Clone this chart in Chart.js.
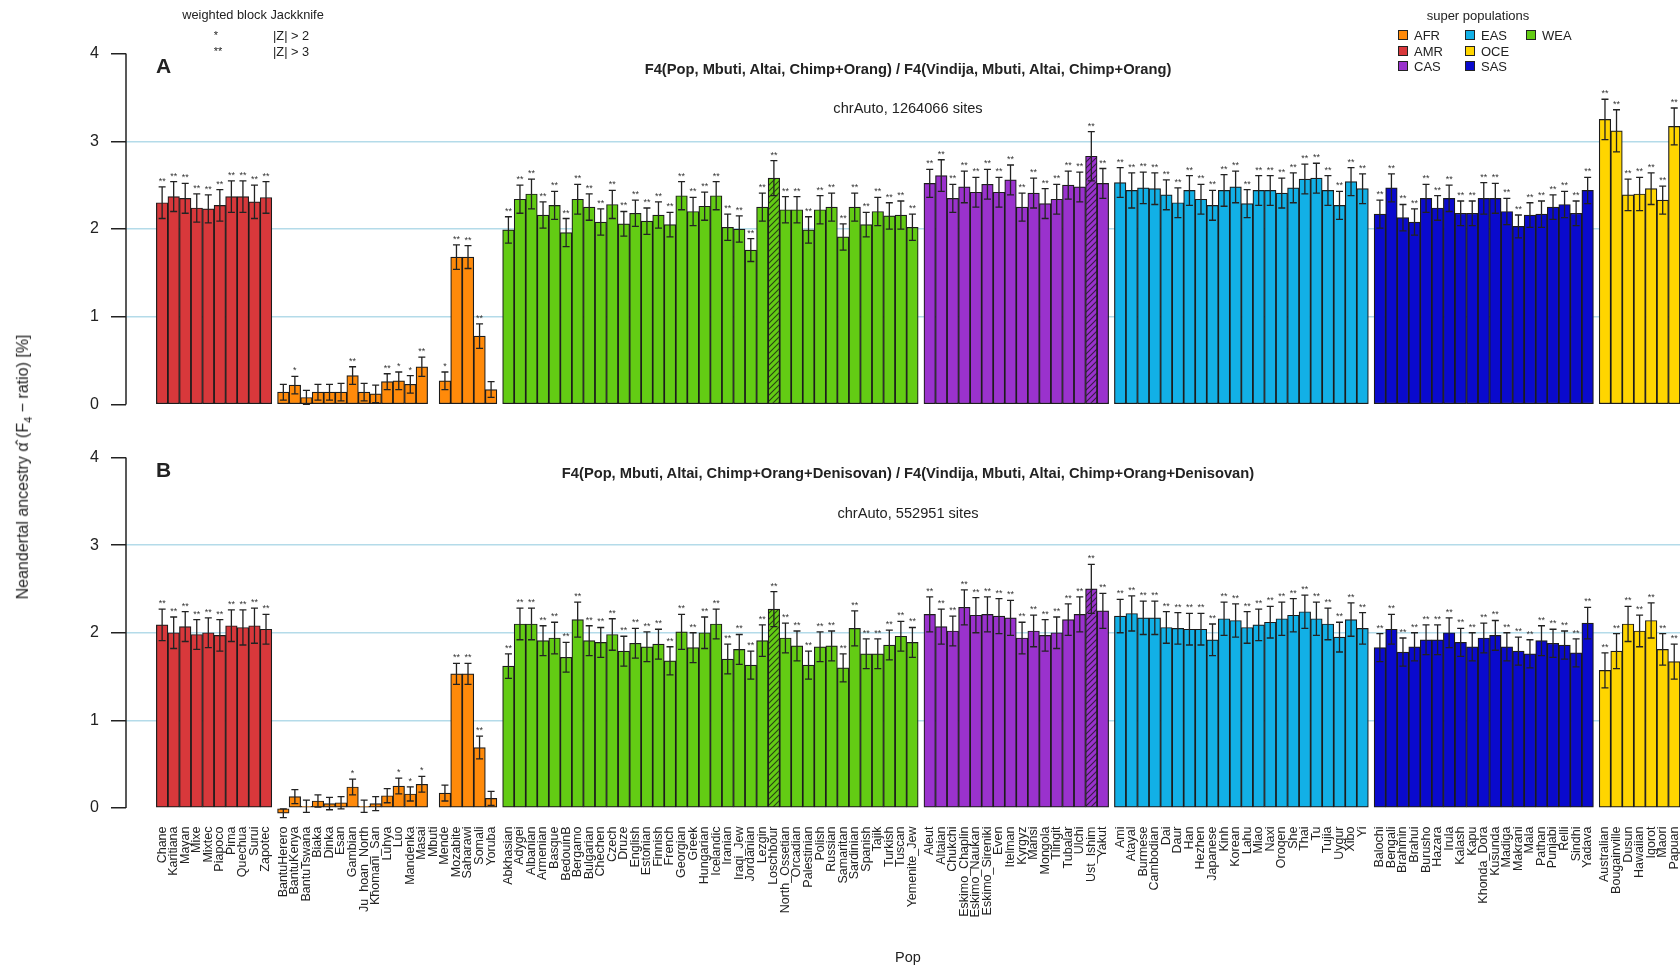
<!DOCTYPE html>
<html>
<head>
<meta charset="utf-8">
<title>Neandertal ancestry by population</title>
<script src="https://cdn.jsdelivr.net/npm/chart.js@4.4.1/dist/chart.umd.min.js"></script>
<style>
  body { margin: 0; width: 1680px; height: 969px; overflow: hidden; background: #fff;
         font-family: "Liberation Sans", Arial, sans-serif; color: #222; position: relative; }
  canvas { position: absolute; left: 0; }
  #chartA { top: 0; }
  #chartB { top: 440px; }
  .txt { position: absolute; white-space: nowrap; z-index: 2; }
  .c { transform: translate(-50%, -50%); }
  .l { transform: translate(0, -50%); }
  .title { font-weight: bold; font-size: 14.7px; }
  .sub { font-size: 14.6px; }
  .panel { font-weight: bold; font-size: 21px; }
  .sq { position: absolute; width: 8px; height: 8px; border: 1px solid #222; transform: translate(0, -50%); }
  #ytitle { left: 24px; top: 467px; font-size: 16px; transform: translate(-50%, -50%) rotate(-90deg); }
</style>
</head>
<body>
<canvas id="chartA" width="1680" height="415"></canvas>
<canvas id="chartB" width="1680" height="529"></canvas>

<div class="txt c" style="left:253px;top:14px;font-size:12.8px">weighted block Jackknife</div>
<div class="txt c" style="left:216px;top:35px;font-size:11px">*</div>
<div class="txt l" style="left:273px;top:35px;font-size:12.8px">|Z| &gt; 2</div>
<div class="txt c" style="left:218px;top:51px;font-size:11px">**</div>
<div class="txt l" style="left:273px;top:51px;font-size:12.8px">|Z| &gt; 3</div>
<div class="txt c" style="left:1478px;top:15px;font-size:13px">super populations</div>
<div id="legend"></div>

<div class="txt l panel" style="left:156px;top:66px">A</div>
<div class="txt c title" style="left:908px;top:69px">F4(Pop, Mbuti, Altai, Chimp+Orang) / F4(Vindija, Mbuti, Altai, Chimp+Orang)</div>
<div class="txt c sub" style="left:908px;top:108px">chrAuto, 1264066 sites</div>
<div class="txt l panel" style="left:156px;top:470px">B</div>
<div class="txt c title" style="left:908px;top:473px">F4(Pop, Mbuti, Altai, Chimp+Orang+Denisovan) / F4(Vindija, Mbuti, Altai, Chimp+Orang+Denisovan)</div>
<div class="txt c sub" style="left:908px;top:513px">chrAuto, 552951 sites</div>
<div class="txt" id="ytitle">Neandertal ancestry &alpha;&#770; (F<sub style="font-size:11px">4</sub> &minus; ratio) [%]</div>
<div class="txt c" style="left:908px;top:957px;font-size:14.5px">Pop</div>

<script>
// super populations in plotting order
const superPops = ['AMR', 'AFR', 'WEA', 'CAS', 'EAS', 'SAS', 'OCE'];
const superColors = ['#d8383b', '#ff8a0a', '#63cc14', '#9a32cd', '#12b0e6', '#0a0acd', '#ffd500'];

const amrPops = ['Chane', 'Karitiana', 'Mayan', 'Mixe', 'Mixtec', 'Piapoco', 'Pima', 'Quechua', 'Surui', 'Zapotec'];
const afrPops = ['BantuHerero', 'BantuKenya', 'BantuTswana', 'Biaka', 'Dinka', 'Esan', 'Gambian', 'Ju_hoan_North',
  'Khomani_San', 'Luhya', 'Luo', 'Mandenka', 'Masai', 'Mbuti', 'Mende', 'Mozabite', 'Saharawi', 'Somali', 'Yoruba'];
const weaPops = ['Abkhasian', 'Adygei', 'Albanian', 'Armenian', 'Basque', 'BedouinB', 'Bergamo', 'Bulgarian', 'Chechen',
  'Czech', 'Druze', 'English', 'Estonian', 'Finnish', 'French', 'Georgian', 'Greek', 'Hungarian', 'Icelandic', 'Iranian',
  'Iraqi_Jew', 'Jordanian', 'Lezgin', 'Loschbour', 'North_Ossetian', 'Orcadian', 'Palestinian', 'Polish', 'Russian',
  'Samaritan', 'Sardinian', 'Spanish', 'Tajik', 'Turkish', 'Tuscan', 'Yemenite_Jew'];
const casPops = ['Aleut', 'Altaian', 'Chukchi', 'Eskimo_Chaplin', 'Eskimo_Naukan', 'Eskimo_Sireniki', 'Even', 'Itelman',
  'Kyrgyz', 'Mansi', 'Mongola', 'Tlingit', 'Tubalar', 'Ulchi', 'Ust_Ishim', 'Yakut'];
const easPops = ['Ami', 'Atayal', 'Burmese', 'Cambodian', 'Dai', 'Daur', 'Han', 'Hezhen', 'Japanese', 'Kinh', 'Korean',
  'Lahu', 'Miao', 'Naxi', 'Oroqen', 'She', 'Thai', 'Tu', 'Tujia', 'Uygur', 'Xibo', 'Yi'];
const sasPops = ['Balochi', 'Bengali', 'Brahmin', 'Brahui', 'Burusho', 'Hazara', 'Irula', 'Kalash', 'Kapu', 'Khonda_Dora',
  'Kusunda', 'Madiga', 'Makrani', 'Mala', 'Pathan', 'Punjabi', 'Relli', 'Sindhi', 'Yadava'];
const ocePops = ['Australian', 'Bougainville', 'Dusun', 'Hawaiian', 'Igorot', 'Maori', 'Papuan'];

// ancient genomes drawn hatched
const ancientPops = ['Loschbour', 'Ust_Ishim'];

// panel A: alpha estimates (%) and jackknife errors
const amrA = [2.30, 2.37, 2.35, 2.24, 2.23, 2.27, 2.37, 2.37, 2.31, 2.36];
const afrA = [0.14, 0.22, 0.08, 0.14, 0.14, 0.14, 0.33, 0.14, 0.12, 0.26, 0.27, 0.23, 0.43, null, 0.27, 1.68, 1.68, 0.78, 0.17];
const weaA = [1.99, 2.34, 2.40, 2.16, 2.27, 1.96, 2.34, 2.25, 2.08, 2.28, 2.06, 2.18, 2.09, 2.16, 2.05, 2.38, 2.20, 2.26,
  2.38, 2.02, 2.00, 1.76, 2.25, 2.58, 2.22, 2.22, 1.99, 2.22, 2.25, 1.91, 2.25, 2.05, 2.20, 2.15, 2.16, 2.02];
const casA = [2.52, 2.61, 2.35, 2.48, 2.42, 2.51, 2.42, 2.56, 2.25, 2.41, 2.29, 2.34, 2.50, 2.48, 2.83, 2.52];
const easA = [2.53, 2.44, 2.47, 2.46, 2.39, 2.30, 2.44, 2.34, 2.27, 2.44, 2.48, 2.29, 2.44, 2.44, 2.41, 2.47, 2.57, 2.58,
  2.44, 2.27, 2.54, 2.46];
const sasA = [2.17, 2.47, 2.13, 2.08, 2.35, 2.24, 2.35, 2.18, 2.18, 2.35, 2.35, 2.20, 2.03, 2.16, 2.17, 2.25, 2.28, 2.18, 2.44];
const oceA = [3.25, 3.12, 2.39, 2.40, 2.46, 2.33, 3.17];

const amrErrA = [0.18, 0.17, 0.17, 0.16, 0.16, 0.18, 0.18, 0.18, 0.19, 0.18];
const afrErrA = [0.09, 0.10, 0.08, 0.09, 0.09, 0.10, 0.10, 0.10, 0.10, 0.09, 0.10, 0.10, 0.11, null, 0.10, 0.14, 0.13, 0.14, 0.09];
const weaErrA = [0.15, 0.16, 0.17, 0.15, 0.16, 0.16, 0.17, 0.15, 0.15, 0.16, 0.14, 0.15, 0.15, 0.15, 0.14, 0.16, 0.16, 0.16,
  0.16, 0.15, 0.15, 0.13, 0.16, 0.20, 0.15, 0.15, 0.15, 0.16, 0.16, 0.15, 0.16, 0.14, 0.16, 0.15, 0.16, 0.15];
const casErrA = [0.16, 0.18, 0.16, 0.18, 0.17, 0.17, 0.17, 0.17, 0.16, 0.17, 0.17, 0.17, 0.16, 0.17, 0.28, 0.17];
const easErrA = [0.17, 0.20, 0.18, 0.18, 0.17, 0.17, 0.17, 0.17, 0.17, 0.18, 0.18, 0.16, 0.17, 0.17, 0.17, 0.17, 0.17, 0.17,
  0.17, 0.16, 0.16, 0.17];
const sasErrA = [0.16, 0.16, 0.15, 0.15, 0.16, 0.14, 0.15, 0.14, 0.14, 0.18, 0.17, 0.15, 0.13, 0.14, 0.15, 0.14, 0.15, 0.14, 0.15];
const oceErrA = [0.23, 0.24, 0.18, 0.19, 0.18, 0.16, 0.21];

// panel B
const amrB = [2.09, 2.00, 2.07, 1.98, 2.00, 1.97, 2.08, 2.06, 2.08, 2.04];
const afrB = [-0.06, 0.13, 0.02, 0.08, 0.05, 0.06, 0.24, 0.02, 0.05, 0.14, 0.25, 0.16, 0.27, null, 0.17, 1.53, 1.53, 0.69, 0.11];
const weaB = [1.62, 2.10, 2.10, 1.91, 1.94, 1.72, 2.15, 1.91, 1.89, 1.98, 1.79, 1.88, 1.84, 1.87, 1.68, 2.01, 1.83, 2.00,
  2.10, 1.70, 1.81, 1.63, 1.91, 2.27, 1.94, 1.85, 1.63, 1.84, 1.85, 1.60, 2.05, 1.76, 1.76, 1.86, 1.96, 1.89];
const casB = [2.21, 2.07, 2.02, 2.29, 2.20, 2.21, 2.19, 2.17, 1.94, 2.02, 1.97, 2.00, 2.15, 2.21, 2.50, 2.25];
const easB = [2.19, 2.22, 2.17, 2.17, 2.06, 2.05, 2.04, 2.04, 1.92, 2.16, 2.14, 2.06, 2.09, 2.12, 2.16, 2.20, 2.24, 2.16,
  2.10, 1.95, 2.15, 2.05];
const sasB = [1.83, 2.04, 1.78, 1.84, 1.92, 1.92, 2.00, 1.89, 1.84, 1.94, 1.97, 1.84, 1.79, 1.76, 1.91, 1.88, 1.86, 1.77, 2.11];
const oceB = [1.57, 1.79, 2.10, 2.02, 2.14, 1.81, 1.67];

const amrErrB = [0.18, 0.18, 0.17, 0.17, 0.17, 0.18, 0.18, 0.20, 0.20, 0.17];
const afrErrB = [0.05, 0.08, 0.07, 0.07, 0.07, 0.07, 0.09, 0.07, 0.08, 0.08, 0.09, 0.08, 0.09, null, 0.09, 0.12, 0.12, 0.13, 0.08];
const weaErrB = [0.14, 0.18, 0.18, 0.17, 0.18, 0.17, 0.20, 0.17, 0.17, 0.18, 0.17, 0.17, 0.17, 0.17, 0.16, 0.20, 0.17, 0.18,
  0.17, 0.17, 0.17, 0.16, 0.18, 0.20, 0.17, 0.17, 0.16, 0.17, 0.17, 0.16, 0.20, 0.17, 0.17, 0.17, 0.17, 0.17];
const casErrB = [0.20, 0.20, 0.17, 0.20, 0.20, 0.20, 0.20, 0.20, 0.18, 0.18, 0.18, 0.18, 0.18, 0.20, 0.28, 0.20];
const easErrB = [0.19, 0.20, 0.19, 0.19, 0.18, 0.18, 0.18, 0.18, 0.18, 0.19, 0.19, 0.18, 0.18, 0.18, 0.19, 0.19, 0.19, 0.19,
  0.18, 0.17, 0.19, 0.18];
const sasErrB = [0.16, 0.17, 0.16, 0.16, 0.17, 0.17, 0.17, 0.16, 0.16, 0.17, 0.17, 0.16, 0.16, 0.16, 0.17, 0.16, 0.16, 0.16, 0.18];
const oceErrB = [0.20, 0.20, 0.20, 0.18, 0.20, 0.18, 0.20];

// significance stars where not all '**'
const afrStarsA = ['', '*', '', '', '', '', '**', '', '', '**', '*', '*', '**', '', '*', '**', '**', '**', ''];
const afrStarsB = ['', '', '', '', '', '', '*', '', '', '', '*', '*', '*', '', '', '**', '**', '**', ''];

const yTicks = [0, 1, 2, 3, 4];

const popNames = [amrPops, afrPops, weaPops, casPops, easPops, sasPops, ocePops];
const valuesA = [amrA, afrA, weaA, casA, easA, sasA, oceA];
const errorsA = [amrErrA, afrErrA, weaErrA, casErrA, easErrA, sasErrA, oceErrA];
const valuesB = [amrB, afrB, weaB, casB, easB, sasB, oceB];
const errorsB = [amrErrB, afrErrB, weaErrB, casErrB, easErrB, sasErrB, oceErrB];

// layout (in bar widths)
const GROUP_GAP = 0.5;
const LEFT_GAP = 2.63;
const FONT = '"Liberation Sans", Arial, sans-serif';

// bar positions on the linear x axis: bars touch, groups separated by a gap
const xPos = [];
let count = 0;
popNames.forEach((names, g) => {
  xPos.push(names.map((_, i) => count + i + g * GROUP_GAP));
  count += names.length;
});
const allX = xPos.flat();
const allNames = popNames.flat();
const xMin = allX[0] - 0.5 - LEFT_GAP;
const xMax = allX[allX.length - 1] + 0.5;

function hatch(color) {
  const c = document.createElement('canvas');
  c.width = c.height = 6;
  const g = c.getContext('2d');
  g.fillStyle = color;
  g.fillRect(0, 0, 6, 6);
  g.strokeStyle = 'rgba(20,20,20,0.75)';
  g.lineWidth = 1.1;
  g.beginPath();
  g.moveTo(0, 6); g.lineTo(6, 0);
  g.moveTo(-1, 1); g.lineTo(1, -1);
  g.moveTo(5, 7); g.lineTo(7, 5);
  g.stroke();
  return g.createPattern(c, 'repeat');
}

// error bars, stars and the R-style y axis line
const errorBars = {
  id: 'errorBars',
  afterDatasetsDraw(chart) {
    const ctx = chart.ctx;
    const y = chart.scales.y;
    ctx.save();
    ctx.strokeStyle = '#222';
    ctx.lineWidth = 1.3;
    ctx.fillStyle = '#333';
    ctx.font = '9px ' + FONT;
    ctx.textAlign = 'center';
    ctx.textBaseline = 'bottom';
    chart.data.datasets.forEach((ds, di) => {
      chart.getDatasetMeta(di).data.forEach((bar, i) => {
        const v = ds.data[i].y;
        if (v === null) return;
        const e = ds.err[i];
        const top = y.getPixelForValue(v + e);
        const bot = y.getPixelForValue(v - e);
        const x = bar.x;
        ctx.beginPath();
        ctx.moveTo(x, top); ctx.lineTo(x, bot);
        ctx.moveTo(x - 3.5, top); ctx.lineTo(x + 3.5, top);
        ctx.moveTo(x - 3.5, bot); ctx.lineTo(x + 3.5, bot);
        ctx.stroke();
        if (ds.stars[i]) ctx.fillText(ds.stars[i], x, top - 1);
      });
    });
    // axis line from 0 to 4
    const left = chart.chartArea.left;
    ctx.lineWidth = 1.5;
    ctx.beginPath();
    ctx.moveTo(left, y.getPixelForValue(yTicks[0]));
    ctx.lineTo(left, y.getPixelForValue(yTicks[yTicks.length - 1]));
    ctx.stroke();
    ctx.restore();
  }
};

function makeChart(id, values, errors, starsAfr, showX, padTop, xHeight) {
  const ctx = document.getElementById(id).getContext('2d');
  const datasets = superPops.map((sp, g) => {
    const pattern = hatch(superColors[g]);
    return {
      label: sp,
      data: values[g].map((v, i) => ({ x: xPos[g][i], y: v })),
      err: errors[g],
      stars: sp === 'AFR' ? starsAfr : values[g].map(() => '**'),
      backgroundColor: (c) => ancientPops.includes(popNames[g][c.dataIndex]) ? pattern : superColors[g],
      borderColor: '#1c1c1c',
      borderWidth: 1.2,
      borderSkipped: false,
      grouped: false,
      barPercentage: 1,
      categoryPercentage: 1
    };
  });

  return new Chart(ctx, {
    type: 'bar',
    data: { datasets: datasets },
    options: {
      responsive: false,
      animation: false,
      devicePixelRatio: 1,
      layout: { padding: { top: padTop, left: 0, right: 0, bottom: 0 } },
      plugins: { legend: { display: false }, tooltip: { enabled: false } },
      scales: {
        x: {
          type: 'linear',
          display: showX,
          min: xMin,
          max: xMax,
          offset: false,
          afterBuildTicks: (axis) => { axis.ticks = allX.map(v => ({ value: v })); },
          afterFit: (axis) => {
            axis.height = xHeight;
            axis.paddingLeft = 0;
            axis.paddingRight = 0;
          },
          grid: { display: false, drawTicks: false },
          border: { display: false },
          ticks: {
            autoSkip: false,
            minRotation: 90,
            maxRotation: 90,
            padding: 8,
            color: '#222',
            font: { family: FONT, size: 12.5 },
            callback: (val, i) => allNames[i]
          }
        },
        y: {
          min: -0.12,
          max: 4.08,
          afterBuildTicks: (axis) => { axis.ticks = yTicks.map(v => ({ value: v })); },
          afterFit: (axis) => {
            axis.width = 126;
            axis.paddingTop = 0;
            axis.paddingBottom = 0;
          },
          border: { display: false },
          grid: {
            color: (c) => (c.tick && c.tick.value > 0 && c.tick.value < 4) ? '#b4dbe9' : 'rgba(0,0,0,0)',
            lineWidth: 1.5,
            tickColor: '#222',
            tickLength: 15,
            drawTicks: true
          },
          ticks: { padding: 12, color: '#222', font: { family: FONT, size: 16 } }
        }
      }
    },
    plugins: [errorBars]
  });
}

makeChart('chartA', valuesA, errorsA, afrStarsA, false, 46.6, 0);
makeChart('chartB', valuesB, errorsB, afrStarsB, true, 10.5, 150.5);

// super population legend, alphabetical, filled by column
const legend = document.getElementById('legend');
const sorted = superPops.map((sp, g) => ({ sp, col: superColors[g] })).sort((a, b) => a.sp.localeCompare(b.sp));
const colX = [1398, 1465, 1526];
const rowY = [35.4, 50.6, 66.4];
sorted.forEach((item, i) => {
  const cx = colX[Math.floor(i / 3)], cy = rowY[i % 3];
  const sq = document.createElement('div');
  sq.className = 'sq';
  sq.style.left = cx + 'px'; sq.style.top = cy + 'px'; sq.style.background = item.col;
  legend.appendChild(sq);
  const t = document.createElement('div');
  t.className = 'txt l';
  t.style.left = (cx + 16) + 'px'; t.style.top = cy + 'px'; t.style.fontSize = '13px';
  t.textContent = item.sp;
  legend.appendChild(t);
});
</script>
</body>
</html>
